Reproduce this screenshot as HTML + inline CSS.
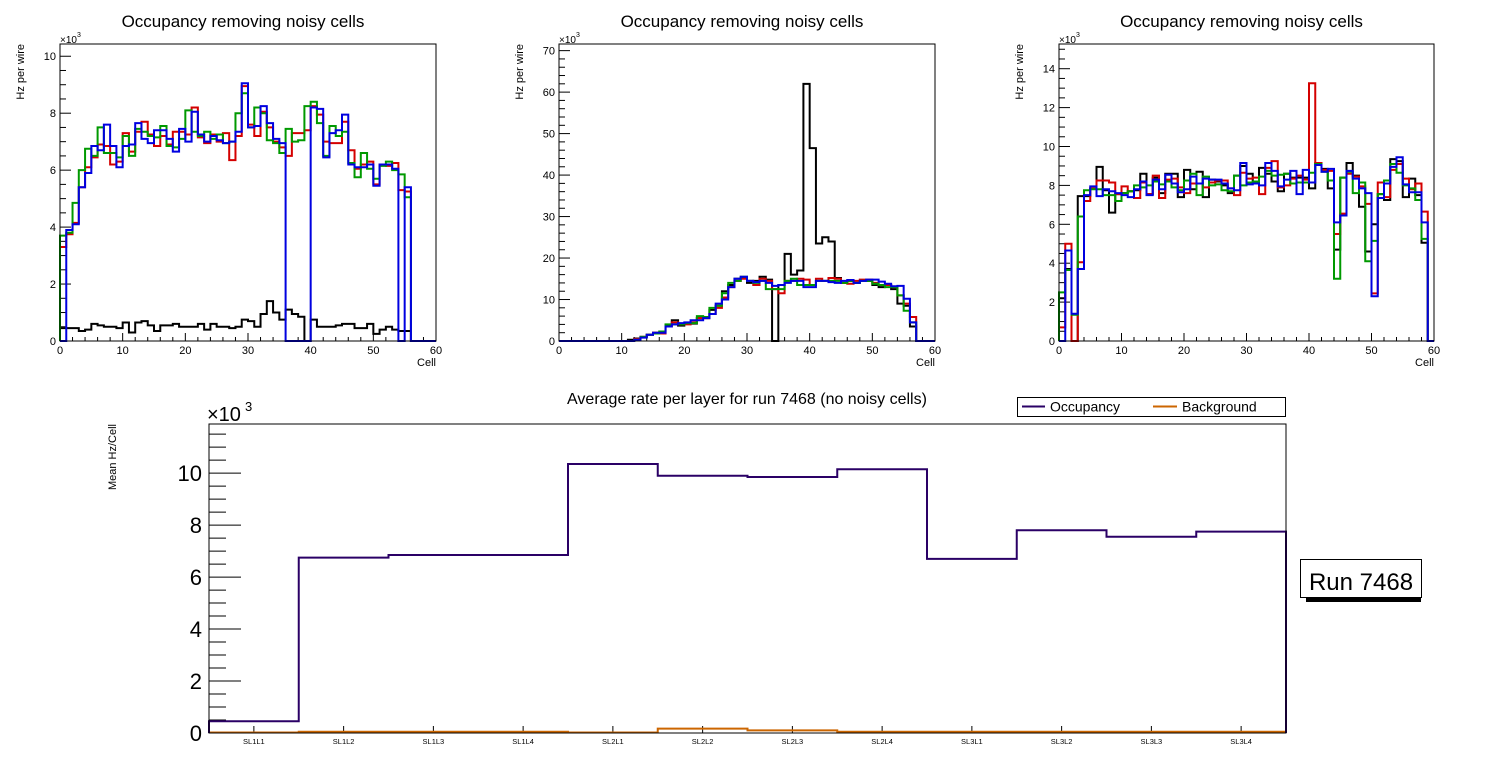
<!DOCTYPE html>
<html><head><meta charset="utf-8">
<style>
html,body{margin:0;padding:0;background:#fff;}
svg{display:block;font-family:"Liberation Sans",sans-serif;}
</style></head>
<body>
<svg id="c" width="1496" height="772" viewBox="0 0 1496 772" xmlns="http://www.w3.org/2000/svg"></svg>
<script>
// ---- data (values in units of 10^3) ----
const cellBins = 60;
const p1Black = [0.45,0.45,0.45,0.35,0.4,0.6,0.55,0.5,0.5,0.45,0.65,0.3,0.65,0.7,0.55,0.35,0.55,0.55,0.6,0.5,0.5,0.5,0.6,0.4,0.6,0.5,0.5,0.45,0.5,0.75,0.7,0.5,0.95,1.4,1.0,0.75,1.1,0.95,0.85,0,0.75,0.5,0.5,0.5,0.55,0.6,0.6,0.45,0.45,0.6,0.25,0.4,0.5,0.4,0.35,0.35,0,0,0,0];
const p1Red = [3.3,3.75,4.15,5.4,6.1,6.45,6.9,6.85,6.2,6.3,7.3,6.65,7.35,7.7,7.25,6.85,7.2,6.9,7.35,7.35,7.25,8.2,7.15,6.95,7.25,7.0,7.3,6.35,7.2,8.95,7.6,7.2,8.05,7.5,7.0,6.8,6.5,7.3,7.3,7.4,8.25,7.95,7.0,6.95,6.95,7.7,6.7,6.05,6.2,6.3,5.5,6.2,6.15,6.25,5.3,5.25,0,0,0,0];
const p1Green = [3.7,3.8,4.85,6.0,6.75,6.5,7.5,6.6,6.6,6.45,7.2,6.5,7.45,7.35,7.2,7.15,7.55,6.85,6.8,7.1,8.1,7.35,7.2,7.35,7.1,7.25,6.95,7.0,8.0,8.7,7.5,8.2,8.0,7.05,6.95,6.6,7.45,7.0,7.05,8.25,8.4,7.65,6.5,7.55,7.2,7.35,6.25,5.75,6.6,6.05,5.7,6.15,6.3,6.0,5.85,5.05,0,0,0,0];
const p1Blue = [0,3.9,4.1,5.4,5.9,6.85,6.7,7.6,6.85,6.1,6.85,6.9,7.65,7.1,6.95,7.4,7.4,7.1,6.65,7.45,7.0,8.05,7.25,7.0,7.2,7.05,6.95,7.0,7.35,9.05,7.5,7.55,8.25,7.65,7.1,6.95,0,0,0,0,8.2,8.15,6.45,7.3,7.4,7.95,6.2,6.1,6.1,6.2,5.45,6.2,6.2,6.05,0,5.4,0,0,0,0];

const p2Black = [0,0,0,0,0,0,0,0,0,0,0,0.3,0.6,1,1.5,2,2,3.8,5,3.7,4.2,4.2,5.5,5.5,7.5,8.5,12,13.5,15,15.2,14,14.5,15.5,14.8,0,13.5,21,16,17,62,46.5,23.5,25,24,15.2,14,14.5,14,14.5,14.5,13.5,13,13.5,12.5,9,8.5,3.5,0,0,0];
const p2Red = [0,0,0,0,0,0,0,0,0,0,0,0,0.5,1,1.5,2,1.8,3.5,4.5,4,4,4.5,5.5,5.5,6.5,8.0,10.5,13,14.5,15,14.5,13.5,15,14.5,12.5,11.5,14.5,14.5,15,14.8,13.5,15,14.5,15.2,15,14,13.8,14.5,14.8,14.8,14,13.5,13.5,13,11,9,5.8,0,0,0];
const p2Green = [0,0,0,0,0,0,0,0,0,0,0,0,0.3,1,1.5,1.8,2.3,4,4,4,4.3,4.3,6,5.8,8,8.5,11.5,14,14.5,15.5,14.5,14,14.5,12.5,12.5,12.5,14.5,15,13.5,13.5,13.5,14.5,14.5,14.5,14.5,14,14.5,14,14.5,14.5,13.8,13.5,13,13,11,7.3,4.5,0,0,0];
const p2Blue = [0,0,0,0,0,0,0,0,0,0,0,0,0.3,0.8,1.5,2,2,3.5,4,4.3,4.5,5,5,5.5,6.5,9,10,13,15,15.5,14.5,14.2,14.5,14,13.3,13.5,14,14.5,14.5,13,13,14.5,14.5,14.2,14,14.5,14.7,14,14.5,14.8,14.8,14.3,13.8,13.2,13.3,10.2,4.5,0,0,0];

const p3Black = [2.2,3.7,0,7.45,7.45,7.85,8.95,7.75,6.6,7.55,7.6,7.7,7.75,8.6,7.55,8.4,7.6,8.6,8.6,7.4,8.8,7.8,8.7,7.4,8.3,8.2,8.0,7.6,8.5,9.0,8.6,8.2,8.9,8.6,8.2,7.7,8.6,8.4,8.4,8.4,7.85,9.15,8.85,7.85,4.7,8.4,9.15,8.5,6.9,4.6,6.0,7.55,7.25,9.35,9.25,7.4,8.35,7.5,5.05,0];
const p3Red = [0.7,5.0,0,4.05,7.2,7.85,8.25,8.25,8.15,7.55,7.95,7.7,7.35,8.15,7.55,8.5,7.35,8.3,8.35,7.9,7.6,8.1,8.1,7.9,8.15,8.25,8.25,7.85,7.5,8.65,8.35,8.4,7.55,8.9,9.25,7.9,8.0,8.35,8.5,8.3,13.25,9.15,8.8,8.75,5.5,6.55,8.6,8.45,7.95,7.05,2.45,8.15,7.4,8.8,9.1,8.35,7.8,8.1,6.65,0];
const p3Green = [2.5,3.65,1.35,6.4,7.75,7.8,7.8,7.5,7.5,7.2,7.6,7.7,8.0,7.9,8.0,8.2,8.05,8.2,7.9,7.75,8.25,8.6,7.5,8.45,8.0,8.05,7.75,7.7,8.5,8.0,8.15,8.2,8.45,8.75,8.5,8.55,8.6,8.1,8.15,8.15,8.65,9.1,8.7,8.25,3.2,8.4,8.7,7.6,8.15,4.1,5.15,7.55,8.25,9.1,8.65,8.0,7.85,7.25,5.25,0];
const p3Blue = [0,4.65,1.4,3.7,7.5,7.95,7.45,7.8,7.7,7.6,7.5,7.4,7.8,8.2,7.5,8.3,7.8,8.55,8.1,7.65,7.8,8.45,8.1,8.35,8.3,8.3,8.1,7.85,7.75,9.15,8.05,8.1,8.0,9.15,8.75,7.95,8.3,8.75,7.55,8.8,8.15,9.05,8.7,8.85,6.1,6.45,8.75,8.35,7.85,7.6,2.3,7.35,8.1,8.95,9.45,8.05,7.65,7.65,6.1,0];

const layers = ["SL1L1","SL1L2","SL1L3","SL1L4","SL2L1","SL2L2","SL2L3","SL2L4","SL3L1","SL3L2","SL3L3","SL3L4"];
const occupancy = [0.45,6.75,6.85,6.85,10.35,9.9,9.85,10.15,6.7,7.8,7.55,7.75];
const background = [0.02,0.05,0.05,0.05,0.02,0.17,0.1,0.05,0.05,0.05,0.05,0.05];
const cellTicks = [0,10,20,30,40,50,60];

const NS = "http://www.w3.org/2000/svg";
const svg = document.getElementById('c');
function mk(tag, attrs, parent){
  const e = document.createElementNS(NS, tag);
  for (const k in attrs) e.setAttribute(k, attrs[k]);
  (parent||svg).appendChild(e);
  return e;
}
function txt(s, attrs, parent){ const t = mk('text', attrs, parent); t.textContent = s; return t; }

function histPath(vals, xs, ys){
  let d = 'M' + xs(0) + ',' + ys(0);
  for (let i=0;i<vals.length;i++){
    d += ' L' + xs(i) + ',' + ys(vals[i]) + ' L' + xs(i+1) + ',' + ys(vals[i]);
  }
  d += ' L' + xs(vals.length) + ',' + ys(0);
  return d;
}

function topPanel(cfg){
  const g = mk('g', {});
  
  
  const L=cfg.l, R=cfg.r, T=44, B=341;
  const xs = i => L + (R-L)*i/cellBins;
  const ys = v => B - (B-T)*v/cfg.ymax;
  const title = txt('Occupancy removing noisy cells', {x:(L+R)/2-5, y:27, 'font-size':17, 'text-anchor':'middle', fill:'#000'}, g);
  
  
  for (let v=0; v<=cfg.ymax+1e-9; v+=cfg.minor){
    const major = Math.abs(v/cfg.major - Math.round(v/cfg.major))<1e-6;
    mk('line',{x1:L,x2:L+(major?11:6),y1:ys(v),y2:ys(v),stroke:'#000','stroke-width':1},g);
    if (major){
      const t = txt(String(Math.round(v)), {x:L-4, y:ys(v)+4, 'font-size':11, 'text-anchor':'end'}, g);
      
      
    }
  }
  for (let c=0;c<=60;c+=2){
    const major = c%10===0;
    mk('line',{x1:xs(c),x2:xs(c),y1:B,y2:B-(major?8:4),stroke:'#000','stroke-width':1},g);
  }
  cellTicks.forEach(c=>{
    const t = txt(String(c), {x:xs(c), y:354, 'font-size':11, 'text-anchor':'middle'}, g);
    
    
  });
  const xt = txt('Cell', {x:R, y:366, 'font-size':11, 'text-anchor':'end'}, g);
  
  
  const yt = txt('Hz per wire', {x:0, y:0, 'font-size':11, 'text-anchor':'end', transform:'translate('+(cfg.l-36)+',44) rotate(-90)'}, g);
  
  
  const ex = txt('\u00d710', {x:L, y:43, 'font-size':10}, g);
  
  
  txt('3', {x:L+17, y:37, 'font-size':7}, g);
  const colors = {black:'#000', red:'#d40000', green:'#009900', blue:'#0000e0'};
  cfg.series.forEach(s=>{
    const p = mk('path',{d:histPath(s.vals,xs,ys),fill:'none',stroke:colors[s.c],'stroke-width':2,'stroke-linejoin':'miter'},g);
    
    
  });
  const fr = mk('rect',{x:L,y:T,width:R-L,height:B-T,fill:'none',stroke:'#000','stroke-width':1},g);
  
  
}

topPanel({name:'panel-sl1', l:60, r:436, ymax:10.43, major:2, minor:0.5,
  series:[{c:'black',vals:p1Black},{c:'red',vals:p1Red},{c:'green',vals:p1Green},{c:'blue',vals:p1Blue}]});
topPanel({name:'panel-sl2', l:559, r:935, ymax:71.6, major:10, minor:2,
  series:[{c:'black',vals:p2Black},{c:'red',vals:p2Red},{c:'green',vals:p2Green},{c:'blue',vals:p2Blue}]});
topPanel({name:'panel-sl3', l:1059, r:1434, ymax:15.27, major:2, minor:0.5,
  series:[{c:'black',vals:p3Black},{c:'red',vals:p3Red},{c:'green',vals:p3Green},{c:'blue',vals:p3Blue}]});

(function(){
  const g = mk('g', {});
  
  
  const L=209, R=1286, T=424, B=733, ymax=11.89;
  const n = layers.length;
  const xs = i => L + (R-L)*i/n;
  const ys = v => B - (B-T)*v/ymax;
  const t = txt('Average rate per layer for run 7468 (no noisy cells)', {x:747, y:404, 'font-size':16, 'text-anchor':'middle'}, g);
  
  
  for (let v=0; v<=ymax; v+=0.5){
    const major = Math.abs(v%2)<1e-6;
    mk('line',{x1:L,x2:L+(major?32:17),y1:ys(v),y2:ys(v),stroke:'#000','stroke-width':1},g);
    if (major){
      const tl = txt(String(v), {x:L-7, y:ys(v)+8, 'font-size':22, 'text-anchor':'end'}, g);
      
      
    }
  }
  layers.forEach((s,i)=>{
    const cx = (xs(i)+xs(i+1))/2;
    mk('line',{x1:cx,x2:cx,y1:B,y2:B-7,stroke:'#000','stroke-width':1},g);
    const tl = txt(s, {x:cx, y:744, 'font-size':7.5, 'text-anchor':'middle'}, g);
    
    
  });
  const ex = txt('\u00d710', {x:L-2, y:421, 'font-size':20}, g);
  
  
  txt('3', {x:L+36, y:411, 'font-size':13}, g);
  const yt = txt('Mean Hz/Cell', {x:0,y:0,'font-size':11,'text-anchor':'end',transform:'translate(116,424) rotate(-90)'}, g);
  
  
  const bg = mk('path',{d:histPath(background,xs,ys),fill:'none',stroke:'#cc6600','stroke-width':2},g);
  
  
  const oc = mk('path',{d:histPath(occupancy,xs,ys),fill:'none',stroke:'#2a0066','stroke-width':2},g);
  
  
  const fr = mk('rect',{x:L,y:T,width:R-L,height:B-T,fill:'none',stroke:'#000','stroke-width':1},g);
  
  
  const lg = mk('g',{},g);
  
  
  mk('rect',{x:1017.5,y:397.5,width:268,height:19,fill:'#fff',stroke:'#000','stroke-width':1},lg);
  const le1 = mk('g',{},lg);
  
  
  mk('line',{x1:1022,x2:1045,y1:406.5,y2:406.5,stroke:'#2a0066','stroke-width':2},le1);
  txt('Occupancy',{x:1050,y:411.5,'font-size':14},le1);
  const le2 = mk('g',{},lg);
  
  
  mk('line',{x1:1153,x2:1177,y1:406.5,y2:406.5,stroke:'#cc6600','stroke-width':2},le2);
  txt('Background',{x:1182,y:411.5,'font-size':14},le2);
  const rl = mk('g',{});
  
  
  mk('rect',{x:1306,y:597,width:115,height:5,fill:'#000'},rl);
  mk('rect',{x:1300.5,y:559.5,width:121,height:38,fill:'#fff',stroke:'#000','stroke-width':1},rl);
  txt('Run 7468',{x:1361,y:590,'font-size':24,'text-anchor':'middle'},rl);
})();
</script>
</body></html>
